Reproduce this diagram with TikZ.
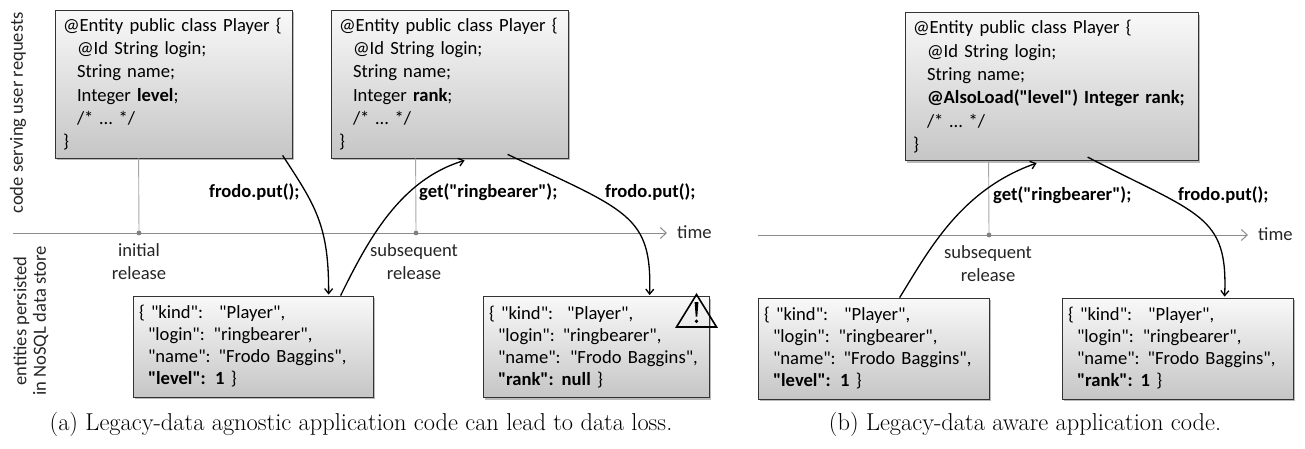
\documentclass[tikz,border=0pt]{standalone}
\usepackage{fontspec}
\newfontfamily\calibri{Carlito}
\usetikzlibrary{arrows.meta,shadows}
\tikzset{
  box/.style={draw=black!80, line width=0.8pt, top color=gray!5, bottom color=gray!45,
    drop shadow={shadow xshift=2.2pt, shadow yshift=-2.2pt, opacity=0.45, fill=black!60},
    inner ysep=0pt, align=left},
  codebox/.style={box, inner xsep=8pt, minimum height=148pt, font=\calibri\fontsize{18.6}{23.3}\selectfont},
  jsonbox/.style={box, inner xsep=6pt, minimum height=101pt, font=\calibri\fontsize{18.6}{22}\selectfont},
  arr/.style={-{Straight Barb[length=5pt,width=8pt,line width=1.3pt]}, line width=1.3pt, black},
  axisline/.style={-{Straight Barb[length=6pt,width=11pt,line width=1pt]}, line width=1pt, black!45},
  vline/.style={line width=0.9pt, black!35},
  dot/.style={fill=black!50},
  lbl/.style={font=\calibri\fontsize{18.6}{23}\selectfont, text=black!85, inner sep=0pt},
  oplbl/.style={font=\calibri\bfseries\fontsize{18.6}{23}\selectfont, inner sep=0pt, anchor=west},
  captext/.style={font=\fontsize{24.4}{28}\selectfont, inner sep=0pt, anchor=base},
}
\newcommand{\ind}{\hspace*{14pt}}
\newcommand{\jin}{\hspace*{9pt}}
\newcommand{\cl}[1]{\mbox{#1}}
\begin{document}
\begin{tikzpicture}[x=1pt,y=-1pt]
\useasboundingbox (0,0) rectangle (1305,448);

% ---------- (a) ----------
\node[lbl, rotate=90] (sideA) at (18,113) {code serving user requests};
\node[lbl, rotate=90, align=center, font=\calibri\fontsize{18.6}{19.5}\selectfont] (sideB) at (31,321) {entities persisted\\in NoSQL data store};

\coordinate (a0) at (13,233);
\coordinate (a1) at (667,233);
\draw[axisline] (a0) -- (a1);
\node[lbl, anchor=west] (timeA) at (677,232) {time};

\node[codebox, text width=221pt] (c1) at (173.5,84) {\cl{@Entity public class Player \{}\\
\cl{\ind @Id String login;}\\
\cl{\ind String name;}\\
\cl{\ind Integer \textbf{level};}\\
\cl{\ind /* \dots\ */}\\
\}};
\node[codebox, text width=221pt] (c2) at (449.5,84) {\cl{@Entity public class Player \{}\\
\cl{\ind @Id String login;}\\
\cl{\ind String name;}\\
\cl{\ind Integer \textbf{rank};}\\
\cl{\ind /* \dots\ */}\\
\}};

\coordinate (d1) at (139,233);
\coordinate (d2) at (416,233);
\draw[vline] ([xshift=84pt]c1.south west) -- (d1);
\draw[vline] ([xshift=85pt]c2.south west) -- (d2);
\fill[dot] (d1) circle (2.4pt);
\fill[dot] (d2) circle (2.4pt);

\node[lbl, align=center] (rel1) at (139,261.5) {initial\\release};
\node[lbl, align=center] (rel2) at (414,261.5) {subsequent\\release};

\node[jsonbox, text width=228pt] (j1) at (253,346.5) {\cl{\{ "kind":\hspace{16pt}"Player",}\\
\cl{\jin "login":\hspace{9pt}"ringbearer",}\\
\cl{\jin "name":\hspace{8pt}"Frodo Baggins",}\\
\cl{\jin \textbf{"level": 1} \}}};
\node[jsonbox, text width=214pt] (j2) at (596,347) {\cl{\{ "kind":\hspace{14pt}"Player",}\\
\cl{\jin "login":\hspace{8pt}"ringbearer",}\\
\cl{\jin "name": "Frodo Baggins",}\\
\cl{\jin \textbf{"rank":\hspace{8pt}null} \}}};

% warning sign
\draw[line width=1.6pt, line join=miter] (696.5,294.5) -- (716.5,327) -- (676.5,327) -- cycle;
\fill (694.6,302) -- (698.4,302) -- (697.3,316.5) -- (695.7,316.5) -- cycle;
\fill (696.5,321.3) circle (1.9pt);

\draw[arr] ([xshift=228pt,yshift=3pt]c1.south west) .. controls (315,205) and (329,225) .. ([xshift=196pt,yshift=1pt]j1.north west);
\draw[arr] ([xshift=208pt]j1.north west) .. controls (368,240) and (400,180) .. ([xshift=134pt,yshift=-2pt]c2.south west);
\draw[arr] ([xshift=177pt,yshift=4pt]c2.south west) .. controls (628,211) and (652,215) .. ([xshift=167pt,yshift=1pt]j2.north west);

\node[oplbl] (putA1) at (209,192) {frodo.put();};
\node[oplbl] (getA) at (419,192) {get("ringbearer");};
\node[oplbl] (putA2) at (605,192) {frodo.put();};

\node[captext] (capA) at (361,430) {(a) Legacy-data agnostic application code can lead to data loss.};

% ---------- (b) ----------
\coordinate (b0) at (758,235);
\coordinate (b1) at (1248,235);
\draw[axisline] (b0) -- (b1);
\node[lbl, anchor=west] (timeB) at (1258,234) {time};

\node[codebox, text width=277pt] (c3) at (1051.5,86.7) {\cl{@Entity public class Player \{}\\
\cl{\ind @Id String login;}\\
\cl{\ind String name;}\\
\cl{\ind \textbf{@AlsoLoad("level") Integer rank;}}\\
\cl{\ind /* \dots\ */}\\
\}};

\coordinate (d3) at (989,235);
\draw[vline] ([xshift=84pt]c3.south west) -- (d3);
\fill[dot] (d3) circle (2.4pt);
\node[lbl, align=center] (rel3) at (988,263.5) {subsequent\\release};

\node[jsonbox, text width=219pt] (j3) at (873.5,348.5) {\cl{\{ "kind":\hspace{16pt}"Player",}\\
\cl{\jin "login":\hspace{9pt}"ringbearer",}\\
\cl{\jin "name":\hspace{8pt}"Frodo Baggins",}\\
\cl{\jin \textbf{"level": 1} \}}};
\node[jsonbox, text width=219pt] (j4) at (1177.5,348.5) {\cl{\{ "kind":\hspace{16pt}"Player",}\\
\cl{\jin "login":\hspace{9pt}"ringbearer",}\\
\cl{\jin "name":\hspace{8pt}"Frodo Baggins",}\\
\cl{\jin \textbf{"rank":\hspace{8pt}1} \}}};

\draw[arr] ([xshift=142pt]j3.north west) .. controls (928,252) and (960,190) .. ([xshift=132pt,yshift=-2pt]c3.south west);
\draw[arr] ([xshift=183pt,yshift=4pt]c3.south west) .. controls (1200,215) and (1228,215) .. ([xshift=163pt,yshift=1pt]j4.north west);

\node[oplbl] (getB) at (993,195) {get("ringbearer");};
\node[oplbl] (putB) at (1178,195) {frodo.put();};

\node[captext] (capB) at (1025,430) {(b) Legacy-data aware application code.};
\end{tikzpicture}
\end{document}
